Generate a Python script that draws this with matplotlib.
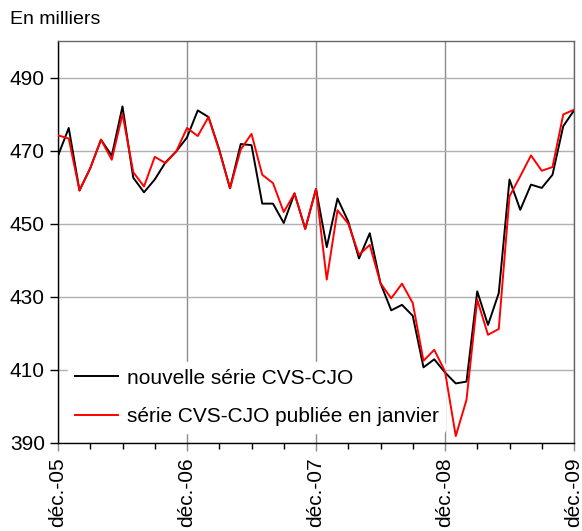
import matplotlib
matplotlib.use("Agg")
import matplotlib.pyplot as plt
from matplotlib.ticker import MultipleLocator

plt.rcParams['font.family'] = ['Liberation Sans', 'DejaVu Sans']

year_labels = ["déc.-05", "déc.-06", "déc.-07", "déc.-08", "déc.-09"]

nouvelle = [468.6, 476.2, 459.1, 465.2, 473.0, 468.6, 482.1, 462.6, 458.6, 462.1,
            466.8, 469.8, 473.6, 481.0, 479.2, 470.3, 459.7, 471.8, 471.5, 455.5,
            455.5, 450.2, 458.3, 448.6, 459.5, 443.6, 456.9, 450.6, 440.5, 447.4,
            433.7, 426.3, 427.8, 424.8, 410.7, 412.9, 409.3, 406.3, 406.8, 431.5,
            422.3, 431.0, 462.1, 453.8, 460.7, 459.8, 463.4, 476.7, 481.0]

publiee = [474.2, 473.3, 459.1, 465.2, 473.0, 467.5, 480.0, 464.1, 460.2, 468.3,
           466.6, 469.8, 476.2, 474.0, 479.2, 470.0, 459.7, 470.3, 474.6, 463.4,
           461.1, 453.2, 458.3, 448.6, 459.5, 434.7, 453.7, 450.0, 441.5, 444.2,
           433.7, 429.6, 433.6, 428.3, 412.5, 415.5, 409.6, 391.9, 401.8, 429.2,
           419.6, 421.2, 457.5, 463.0, 468.7, 464.5, 465.5, 479.9, 481.2]

yticks = [390, 410, 430, 450, 470, 490]

fig = plt.figure(figsize=(5.82, 5.31), dpi=100)
ax = fig.add_axes([58/582, 1-443/531, (574-58)/582, (443-41)/531])

months = list(range(len(nouvelle)))
ax.plot(months, nouvelle, color='black', lw=1.4, label='nouvelle série CVS-CJO', zorder=3)
ax.plot(months, publiee, color='#ff0000', lw=1.4, label='série CVS-CJO publiée en janvier', zorder=3)

ax.set_xlim(0, 48)
ax.set_ylim(390, 500)
ax.set_yticks(yticks)
ax.set_xticks([0, 12, 24, 36, 48])
ax.set_xticklabels(year_labels, rotation=90)
ax.xaxis.set_minor_locator(MultipleLocator(3))

ax.grid(axis='y', color='#b0b0b0', lw=1.0, zorder=0)
ax.grid(axis='x', which='major', color='#8c8c8c', lw=1.0, zorder=0)

ax.tick_params(axis='both', which='major', labelsize=15, direction='out', length=6, width=1, color='black')
ax.tick_params(axis='x', which='major', color='#8c8c8c', pad=4)
ax.tick_params(axis='x', which='minor', length=4, width=1, color='black')

for s in ['left', 'bottom']:
    ax.spines[s].set_color('black')
    ax.spines[s].set_linewidth(1.0)
for s in ['top', 'right']:
    ax.spines[s].set_color('#666666')
    ax.spines[s].set_linewidth(1.0)

leg = ax.legend(loc='lower left', bbox_to_anchor=(0.0, 0.0), frameon=True, fontsize=15,
                handlelength=2.1, handletextpad=0.4, labelspacing=0.95, borderpad=0.3)
leg.get_frame().set_edgecolor('white')
leg.get_frame().set_facecolor('white')
leg.get_frame().set_alpha(1.0)
leg.set_zorder(2)

fig.text(10/582, 1-20/531, "En milliers", fontsize=14, ha='left', va='center')

fig.savefig("out.png", dpi=100)
